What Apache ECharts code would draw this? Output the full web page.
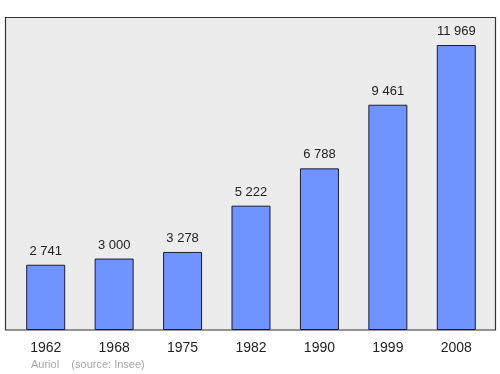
<!DOCTYPE html>
<html><head><meta charset="utf-8">
<script src="https://cdn.jsdelivr.net/npm/echarts@6/dist/echarts.min.js"></script>
<style>html,body{margin:0;padding:0;background:#fff}#c{width:500px;height:374px}</style>
</head><body><div id="c"></div>
<script>
var years = ['1962','1968','1975','1982','1990','1999','2008'];
var population = [2741, 3000, 3278, 5222, 6788, 9461, 11969];
var footer = 'Auriol    (source: Insee)';

function fmt(v){ return String(v).replace(/\B(?=(\d{3})+(?!\d))/g, ' '); }

var chart = echarts.init(document.getElementById('c'), null, {renderer:'canvas'});
chart.setOption({
  animation:false,
  backgroundColor:'#ffffff',
  graphic:[
    {type:'rect', z:-10, shape:{x:5.5,y:17.5,width:490,height:312.5},
     style:{fill:'#ececec', stroke:'#333', lineWidth:1.2}},
    {type:'text', left:31, top:359, style:{text:footer, fill:'#a8a8a8', font:'11px "Liberation Sans", Arial, sans-serif'}}
  ],
  grid:{left:11.5, right:9.5, top:17, bottom:44},
  xAxis:{type:'category', data:years,
    axisLine:{show:false}, axisTick:{show:false},
    axisLabel:{color:'#222', fontSize:14, fontFamily:'"Liberation Sans", Arial, sans-serif', margin:11}},
  yAxis:{type:'value', min:0, max:13145, show:false, splitLine:{show:false}},
  series:[{
    type:'bar', data:population, barWidth:39,
    itemStyle:{color:'#6f94ff', borderColor:'#1b1b3a', borderWidth:1},
    label:{show:true, position:'top', distance:7, color:'#222', fontSize:13,
      fontFamily:'"Liberation Sans", Arial, sans-serif',
      formatter:function(p){return fmt(p.value);}}
  }]
});
</script></body></html>
